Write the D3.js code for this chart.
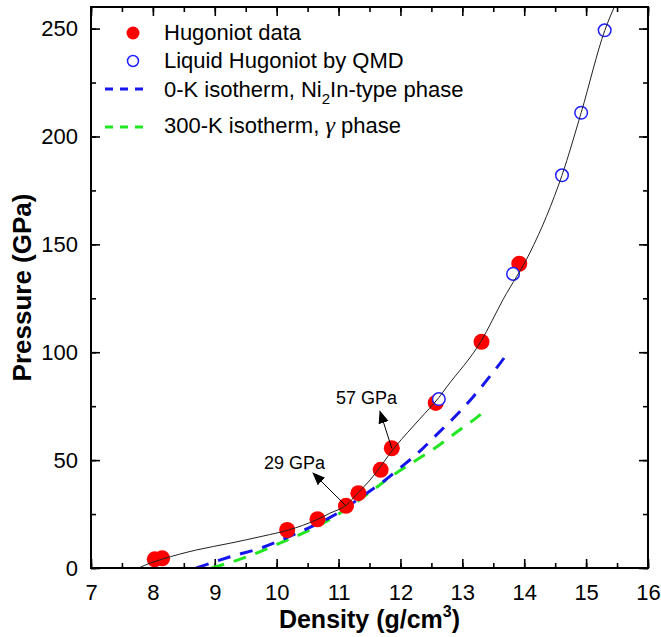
<!DOCTYPE html>
<html>
<head>
<meta charset="utf-8">
<script src="https://cdn.jsdelivr.net/npm/d3@7"></script>
<style>
  body{margin:0;background:#fff;}
  svg{font-family:"Liberation Sans",Arial,sans-serif;}
</style>
</head>
<body>
<svg id="chart"></svg>
<script>
// hugoniot data (density g/cm3, pressure GPa)
var hugDensity  = [8.03, 8.15, 10.17, 10.66, 11.12, 11.32, 11.68, 11.86, 12.57, 13.31, 13.92];
var hugPressure = [4, 4.5, 17.6, 22.6, 28.8, 34.7, 45.5, 55.5, 76.5, 104.8, 141];

// liquid hugoniot by QMD
var qmdDensity  = [12.62, 13.82, 14.61, 14.92, 15.30];
var qmdPressure = [78.3, 136.3, 182, 211, 249.2];

// fitted hugoniot line
var fitDensity  = [7.77, 7.95, 8.14, 8.71, 9.25, 9.78, 10.19, 10.65, 10.86, 11.12, 11.32, 11.51, 11.91, 12.31, 12.62, 12.75, 13.3, 13.66, 14.09, 14.36, 14.61, 14.92, 15.3, 15.47];
var fitPressure = [0, 2.2, 4.0, 8.4, 11.5, 14.8, 17.6, 22.4, 25.4, 29, 35, 40.8, 56, 69, 79, 84, 105, 124.5, 146, 163, 182, 211, 249, 261];

// 0-K isotherm, Ni2In-type
var iso0Density  = [8.70, 9.25, 9.78, 10.32, 10.70, 11.05, 11.37, 11.72, 11.99, 12.31, 12.61, 12.91, 13.18, 13.45, 13.69, 13.76];
var iso0Pressure = [0, 5.2, 9.6, 16.1, 21, 26.5, 33, 40, 46.3, 54, 62.5, 71, 79.5, 89, 98, 101];

// 300-K isotherm, gamma
var iso300Density  = [8.95, 9.52, 10.05, 10.59, 10.86, 11.2, 11.53, 11.85, 12.18, 12.53, 12.91, 13.2, 13.42];
var iso300Pressure = [0, 5.2, 11.5, 18.4, 22.5, 28.8, 35.6, 42.4, 48.6, 55, 63, 69, 74];

var xTicks = [7, 8, 9, 10, 11, 12, 13, 14, 15, 16];
var yTicks = [0, 50, 100, 150, 200, 250];

// annotation arrows: [label, from density, from pressure, to density, to pressure]
var notes = [
  ["57 GPa", 11.86, 55.5, 11.67, 72.5],
  ["29 GPa", 11.12, 28.8, 10.59, 43.9]
];

function zip(xs, ys){
  var out = [];
  xs.forEach(function(d, i){ out.push([d, ys[i]]); });
  return out;
}

function drawChart(){
  var width = 661, height = 637;
  var margin = {top:7, bot:69, left:91, right:13};

  var svg = d3.select("#chart")
              .attr("width", width)
              .attr("height", height);

  var xScale = d3.scaleLinear()
                 .domain([7, 16])
                 .range([margin.left, width - margin.right]);
  var yScale = d3.scaleLinear()
                 .domain([0, 260])
                 .range([height - margin.bot, margin.top]);

  var x0 = xScale.range()[0], x1 = xScale.range()[1];
  var y0 = yScale.range()[0], y1 = yScale.range()[1];

  var defs = svg.append("defs");
  defs.append("clipPath").attr("id", "plotclip")
      .append("rect")
      .attr("x", x0).attr("y", y1)
      .attr("width", x1 - x0).attr("height", y0 - y1);
  defs.append("marker")
      .attr("id", "arrowhead")
      .attr("viewBox", "0 0 10 10")
      .attr("refX", 9).attr("refY", 5)
      .attr("markerWidth", 13).attr("markerHeight", 13)
      .attr("markerUnits", "userSpaceOnUse")
      .attr("orient", "auto")
      .append("path")
      .attr("d", "M0,1 L10,5 L0,9 Z")
      .attr("fill", "#000");

  var minorX = d3.range(7, 16.01, 0.5);
  var minorY = d3.range(0, 260.01, 25);

  function styleAxis(g){
    g.select(".domain").remove();
    g.selectAll(".tick line").attr("stroke", "#000").attr("stroke-width", 1.6);
    g.selectAll("text").attr("font-size", "22px").attr("fill", "#000");
  }

  // bottom
  svg.append("g").attr("transform", "translate(0," + y0 + ")")
     .call(d3.axisBottom(xScale).tickValues(minorX).tickSize(-5).tickFormat(""))
     .call(styleAxis);
  svg.append("g").attr("transform", "translate(0," + y0 + ")")
     .call(d3.axisBottom(xScale).tickValues(xTicks).tickSize(-9).tickPadding(16).tickFormat(d3.format("d")))
     .call(styleAxis);
  // top
  svg.append("g").attr("transform", "translate(0," + y1 + ")")
     .call(d3.axisTop(xScale).tickValues(minorX).tickSize(-5).tickFormat(""))
     .call(styleAxis);
  svg.append("g").attr("transform", "translate(0," + y1 + ")")
     .call(d3.axisTop(xScale).tickValues(xTicks).tickSize(-9).tickFormat(""))
     .call(styleAxis);
  // left
  svg.append("g").attr("transform", "translate(" + x0 + ",0)")
     .call(d3.axisLeft(yScale).tickValues(minorY).tickSize(-5).tickFormat(""))
     .call(styleAxis);
  svg.append("g").attr("transform", "translate(" + x0 + ",0)")
     .call(d3.axisLeft(yScale).tickValues(yTicks).tickSize(-9).tickPadding(13).tickFormat(d3.format("d")))
     .call(styleAxis);
  // right
  svg.append("g").attr("transform", "translate(" + x1 + ",0)")
     .call(d3.axisRight(yScale).tickValues(minorY).tickSize(-5).tickFormat(""))
     .call(styleAxis);
  svg.append("g").attr("transform", "translate(" + x1 + ",0)")
     .call(d3.axisRight(yScale).tickValues(yTicks).tickSize(-9).tickFormat(""))
     .call(styleAxis);

  var plot = svg.append("g").attr("clip-path", "url(#plotclip)");

  var lineMaker = d3.line()
                    .x(function(d){ return xScale(d[0]); })
                    .y(function(d){ return yScale(d[1]); })
                    .curve(d3.curveMonotoneX);

  plot.append("path")
      .attr("d", lineMaker(zip(iso300Density, iso300Pressure)))
      .attr("fill", "none")
      .attr("stroke", "#22e622")
      .attr("stroke-width", 3)
      .attr("stroke-dasharray", "13,10");
  plot.append("path")
      .attr("d", lineMaker(zip(iso0Density, iso0Pressure)))
      .attr("fill", "none")
      .attr("stroke", "#1515ee")
      .attr("stroke-width", 3)
      .attr("stroke-dasharray", "13,10");

  plot.selectAll("circle.hug")
      .data(zip(hugDensity, hugPressure))
      .enter().append("circle")
      .attr("class", "hug")
      .attr("cx", function(d){ return xScale(d[0]); })
      .attr("cy", function(d){ return yScale(d[1]); })
      .attr("r", 8)
      .attr("fill", "#ff0000");

  plot.selectAll("circle.qmd")
      .data(zip(qmdDensity, qmdPressure))
      .enter().append("circle")
      .attr("class", "qmd")
      .attr("cx", function(d){ return xScale(d[0]); })
      .attr("cy", function(d){ return yScale(d[1]); })
      .attr("r", 6.3)
      .attr("fill", "#fff")
      .attr("stroke", "#2020ff")
      .attr("stroke-width", 1.5);

  plot.append("path")
      .attr("d", lineMaker(zip(fitDensity, fitPressure)))
      .attr("fill", "none")
      .attr("stroke", "#222")
      .attr("stroke-width", 1);

  // annotations
  notes.forEach(function(n){
    svg.append("line")
       .attr("x1", xScale(n[1])).attr("y1", yScale(n[2]))
       .attr("x2", xScale(n[3])).attr("y2", yScale(n[4]))
       .attr("stroke", "#000").attr("stroke-width", 1)
       .attr("marker-end", "url(#arrowhead)");
  });
  svg.append("text").attr("x", 336).attr("y", 404)
     .attr("font-size", "18px").text(notes[0][0]);
  svg.append("text").attr("x", 264).attr("y", 469)
     .attr("font-size", "18px").text(notes[1][0]);

  // frame
  svg.append("rect")
     .attr("x", x0).attr("y", y1)
     .attr("width", x1 - x0).attr("height", y0 - y1)
     .attr("fill", "none").attr("stroke", "#000").attr("stroke-width", 2);

  // legend
  var leg = svg.append("g").attr("font-size", "22px");
  leg.append("circle").attr("cx", 133).attr("cy", 33).attr("r", 6.5).attr("fill", "#ff0000");
  leg.append("text").attr("x", 164).attr("y", 40).text("Hugoniot data");
  leg.append("circle").attr("cx", 133).attr("cy", 61).attr("r", 5.5)
     .attr("fill", "#fff").attr("stroke", "#2020ff").attr("stroke-width", 1.5);
  leg.append("text").attr("x", 164).attr("y", 68).text("Liquid Hugoniot by QMD");
  leg.append("line").attr("x1", 105).attr("x2", 143).attr("y1", 89).attr("y2", 89)
     .attr("stroke", "#1515ee").attr("stroke-width", 3).attr("stroke-dasharray", "8,7");
  var t3 = leg.append("text").attr("x", 164).attr("y", 97);
  t3.append("tspan").text("0-K isotherm, Ni");
  t3.append("tspan").attr("dy", 7).attr("font-size", "15px").text("2");
  t3.append("tspan").attr("dy", -7).text("In-type phase");
  leg.append("line").attr("x1", 105).attr("x2", 143).attr("y1", 127).attr("y2", 127)
     .attr("stroke", "#22e622").attr("stroke-width", 3).attr("stroke-dasharray", "8,7");
  var t4 = leg.append("text").attr("x", 164).attr("y", 133);
  t4.append("tspan").text("300-K isotherm, ");
  t4.append("tspan").attr("font-family", "Liberation Serif,serif").attr("font-style", "italic")
    .attr("font-size", "24px").text("\u03b3");
  t4.append("tspan").text(" phase");

  // axis titles
  var xt = svg.append("text")
     .attr("x", (x0 + x1) / 2).attr("y", 628)
     .attr("text-anchor", "middle")
     .attr("font-size", "25px").attr("font-weight", "bold");
  xt.append("tspan").text("Density (g/cm");
  xt.append("tspan").attr("dy", -11).attr("font-size", "16px").text("3");
  xt.append("tspan").attr("dy", 11).text(")");

  svg.append("text")
     .attr("transform", "translate(31," + ((y0 + y1) / 2) + ") rotate(-90)")
     .attr("text-anchor", "middle")
     .attr("font-size", "26px").attr("font-weight", "bold")
     .text("Pressure (GPa)");
}

drawChart();
</script>
</body>
</html>
